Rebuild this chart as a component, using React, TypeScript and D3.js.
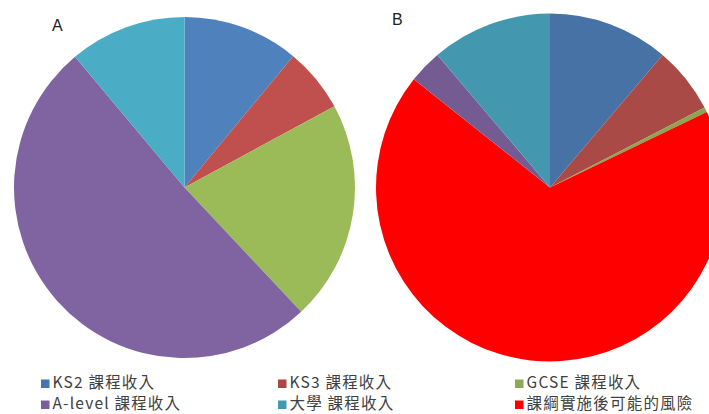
import React from 'react';
import * as d3 from 'd3';

// categories and values (percent)
const categories = ['KS2 課程收入', 'KS3 課程收入', 'GCSE 課程收入', 'A-level 課程收入', '大學 課程收入', '課綱實施後可能的風險'];
const valuesA = [11.0, 6.1, 20.9, 50.9, 11.1];
// pie B draws the risk slice between GCSE and A-level
const orderB = [0, 1, 2, 5, 3, 4];
const valuesB = [11.2, 6.2, 0.45, 67.8, 3.1, 11.2];

const colorsA = ['#4F81BD', '#C0504D', '#9BBB59', '#8064A2', '#4BACC6', '#FF0000'];
const colorsB = ['#4672A6', '#AA4A47', '#8AA650', '#745C93', '#4398AF', '#FF0000'];
const legendColors = ['#4676AE', '#AC4744', '#8DAA52', '#7A5E9B', '#4598B2', '#FF0000'];

const font = '"Liberation Sans Narrow", "Noto Sans CJK TC", sans-serif';

function Pie({ cx, cy, r, values, idx, colors, label, lx, ly }) {
  const pie = d3.pie<number>().sort(null).value(d => d);
  const arc = d3.arc<d3.PieArcDatum<number>>().innerRadius(0).outerRadius(r);
  const arcs = pie(values);
  return (
    <g>
      <g transform={`translate(${cx},${cy})`}>
        {arcs.map((a, i) => (
          <path key={i} d={arc(a) || ''} fill={colors[idx[i]]} />
        ))}
      </g>
      <text x={lx} y={ly} fontSize={16} fontFamily='"Liberation Sans", Arial, sans-serif' fill="#222">{label}</text>
    </g>
  );
}

export default function App() {
  const colX = [41, 278, 515];
  const rowY = [379.5, 400.5];
  return (
    <svg width={709} height={414} style={{ position: 'absolute', left: 0, top: 0, background: '#fff' }}>
      <rect width={709} height={414} fill="#fff" />
      <Pie cx={184.5} cy={187.5} r={170.5} values={valuesA} idx={[0, 1, 2, 3, 4]} colors={colorsA} label="A" lx={52} ly={31} />
      <Pie cx={550} cy={187.5} r={174} values={valuesB} idx={orderB} colors={colorsB} label="B" lx={392} ly={24.5} />
      {categories.map((c, i) => {
        const x = colX[i % 3];
        const y = rowY[Math.floor(i / 3)];
        return (
          <g key={c}>
            <rect x={x} y={y} width={8.5} height={8.5} fill={legendColors[i]} />
            <text x={x + 11.5} y={y + 8.5} fontSize={15.5} letterSpacing={1.2} fontFamily={font} fill="#404040">{c}</text>
          </g>
        );
      })}
    </svg>
  );
}
